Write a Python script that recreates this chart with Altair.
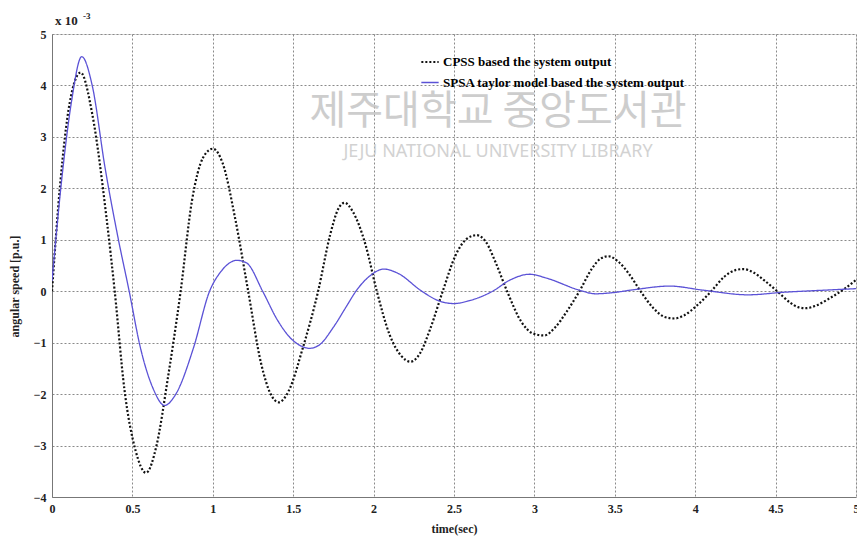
import altair as alt
import pandas as pd

# CPSS based output (black dotted), values in units of 1e-3 p.u.
t_cpss = [0, 0.05, 0.11, 0.178, 0.25, 0.34, 0.39, 0.45, 0.52, 0.585, 0.65, 0.72, 0.80,
          0.87, 0.94, 1.0, 1.06, 1.14, 1.22, 1.30, 1.36, 1.41, 1.47, 1.56, 1.655,
          1.73, 1.78, 1.82, 1.87, 1.95, 2.02, 2.10, 2.17, 2.23, 2.29, 2.35, 2.43,
          2.51, 2.58, 2.64, 2.70, 2.76, 2.83, 2.92, 2.99, 3.06, 3.13, 3.20, 3.28,
          3.36, 3.41, 3.46, 3.52, 3.59, 3.66, 3.74, 3.81, 3.87, 3.93, 4.01, 4.10,
          4.18, 4.25, 4.30, 4.36, 4.43, 4.51, 4.59, 4.64, 4.69, 4.75, 4.84, 4.93, 5.0]
y_cpss = [0, 2.05, 3.66, 4.25, 3.45, 1.4, 0.0, -1.9, -3.1, -3.53, -3.0, -1.7, 0.0,
          1.75, 2.6, 2.77, 2.5, 1.4, 0.0, -1.4, -2.0, -2.16, -1.95, -1.1, 0.0,
          1.1, 1.6, 1.72, 1.55, 0.9, 0.0, -0.85, -1.25, -1.37, -1.2, -0.75, 0.0,
          0.7, 1.02, 1.09, 0.95, 0.55, 0.0, -0.6, -0.82, -0.86, -0.7, -0.4, 0.0,
          0.45, 0.63, 0.68, 0.58, 0.33, 0.0, -0.33, -0.5, -0.53, -0.47, -0.28, 0.0,
          0.28, 0.41, 0.43, 0.37, 0.21, 0.0, -0.22, -0.31, -0.33, -0.28, -0.13, 0.05, 0.22]

# SPSA taylor model based output (blue solid)
t_spsa = [0, 0.067, 0.12, 0.185, 0.25, 0.33, 0.41, 0.48, 0.55, 0.63, 0.70, 0.77, 0.88,
          0.98, 1.05, 1.15, 1.21, 1.31, 1.40, 1.48, 1.54, 1.60, 1.66, 1.75, 1.83,
          1.89, 1.97, 2.065, 2.15, 2.30, 2.40, 2.50, 2.60, 2.74, 2.85, 2.97, 3.08,
          3.28, 3.38, 3.48, 3.62, 3.84, 4.05, 4.33, 4.55, 4.8, 5.0]
y_spsa = [0.2, 2.36, 3.66, 4.56, 4.0, 2.4, 1.05, 0.0, -1.1, -1.9, -2.22, -2.0, -1.1,
          0.0, 0.38, 0.60, 0.55, 0.0, -0.55, -0.9, -1.05, -1.11, -1.05, -0.7, -0.3,
          0.0, 0.28, 0.43, 0.35, 0.0, -0.18, -0.24, -0.18, 0.0, 0.22, 0.33, 0.25,
          0.02, -0.05, -0.03, 0.03, 0.10, 0.02, -0.07, -0.02, 0.02, 0.05]

name_cpss = "CPSS based the system output"
name_spsa = "SPSA taylor model based the system output"

x_ticks = [0, 0.5, 1, 1.5, 2, 2.5, 3, 3.5, 4, 4.5, 5]
y_ticks = [-4, -3, -2, -1, 0, 1, 2, 3, 4, 5]

df = pd.concat([
    pd.DataFrame({"t": t_cpss, "y": y_cpss, "series": name_cpss}),
    pd.DataFrame({"t": t_spsa, "y": y_spsa, "series": name_spsa}),
])

SERIF = "Liberation Serif"
axis_style = dict(
    grid=True, gridColor="#8a8a8a", gridDash=[2, 2], gridWidth=1,
    domainColor="#777777", ticks=False, format="~g",
    labelFont=SERIF, labelFontWeight="bold", labelFontSize=12, labelColor="#222222",
    titleFont=SERIF, titleFontWeight="bold", titleFontSize=12, titleColor="#222222",
    labelPadding=6,
)

lines = alt.Chart(df).mark_line(interpolate="monotone", clip=True).encode(
    x=alt.X("t:Q", scale=alt.Scale(domain=[0, 5], nice=False),
            axis=alt.Axis(values=x_ticks, title="time(sec)", labelFlush=False,
                          titlePadding=9, **axis_style)),
    y=alt.Y("y:Q", scale=alt.Scale(domain=[-4, 5], nice=False),
            axis=alt.Axis(values=y_ticks, title="angular speed [p.u.]",
                          titlePadding=12, titleY=252, **axis_style)),
    color=alt.Color("series:N",
                    scale=alt.Scale(domain=[name_cpss, name_spsa], range=["#111111", "#5b52d6"]),
                    legend=alt.Legend(orient="none", legendX=368, legendY=18, title=None,
                                      symbolType="stroke", symbolSize=300, symbolStrokeWidth=2,
                                      labelFont=SERIF, labelFontWeight="bold", labelFontSize=13,
                                      labelLimit=0, rowPadding=4, labelOffset=3)),
    strokeDash=alt.StrokeDash("series:N",
                              scale=alt.Scale(domain=[name_cpss, name_spsa], range=[[2, 2], [1, 0]]),
                              legend=None),
    strokeWidth=alt.StrokeWidth("series:N",
                                scale=alt.Scale(domain=[name_cpss, name_spsa], range=[2.2, 1.3]),
                                legend=None),
)

wm1 = alt.Chart(pd.DataFrame({"s": ["제주대학교 중앙도서관"]})).mark_text(
    font="Noto Sans CJK KR", fontSize=40, color="#bdbdbd", opacity=0.75, align="center", baseline="middle"
).encode(text="s:N", x=alt.value(446), y=alt.value(78))

wm2 = alt.Chart(pd.DataFrame({"s": ["JEJU NATIONAL UNIVERSITY  LIBRARY"]})).mark_text(
    font="Noto Sans", fontSize=18, color="#c4c4c4", opacity=0.75, align="center", baseline="middle"
).encode(text="s:N", x=alt.value(446), y=alt.value(118))

mult = alt.Chart(pd.DataFrame({"s": ["x 10"]})).mark_text(
    font=SERIF, fontSize=13, fontWeight="bold", color="#222", align="left", baseline="middle"
).encode(text="s:N", x=alt.value(3), y=alt.value(-13))

mult_exp = alt.Chart(pd.DataFrame({"s": ["-3"]})).mark_text(
    font=SERIF, fontSize=9, fontWeight="bold", color="#222", align="left", baseline="middle"
).encode(text="s:N", x=alt.value(31), y=alt.value(-18))

chart = alt.layer(wm1, wm2, lines, mult, mult_exp).properties(
    width=804, height=463,
    autosize=alt.AutoSizeParams(type="none"),
    padding={"left": 52, "top": 34, "right": 1, "bottom": 45},
).configure_view(
    stroke="#777777", strokeWidth=1
).configure(background="white")

chart.save("out.html", embed_options={"renderer": "svg", "actions": False})
